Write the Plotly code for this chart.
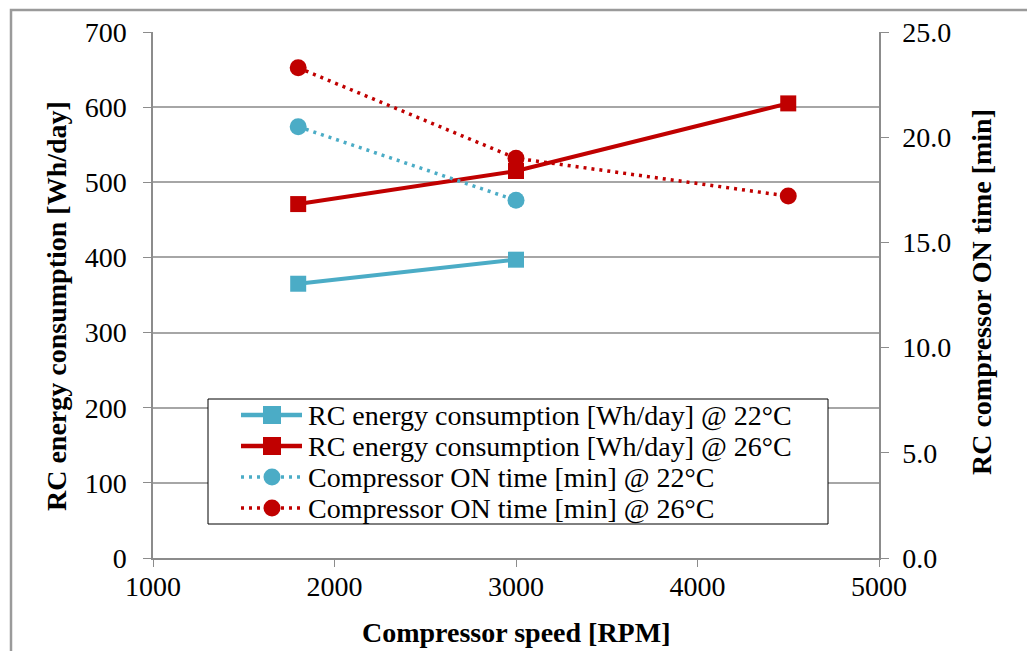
import plotly.graph_objects as go

# Compressor speed [RPM]
speed_energy_22 = [1800, 3000]
speed_energy_26 = [1800, 3000, 4500]
speed_on_22 = [1800, 3000]
speed_on_26 = [1800, 3000, 4500]

# RC energy consumption [Wh/day]
energy_22 = [365, 397]
energy_26 = [471, 515, 605]

# Compressor ON time [min]
on_time_22 = [20.5, 17.0]
on_time_26 = [23.3, 19.0, 17.2]

x_ticks = [1000, 2000, 3000, 4000, 5000]
y_left_ticks = [0, 100, 200, 300, 400, 500, 600, 700]
y_right_ticks = [0, 5, 10, 15, 20, 25]

series_names = [
    "RC energy consumption [Wh/day] @ 22°C",
    "RC energy consumption [Wh/day] @ 26°C",
    "Compressor ON time [min] @ 22°C",
    "Compressor ON time [min] @ 26°C",
]

CYAN = "#4BACC6"
RED = "#C00000"
FONT = "Liberation Serif, Times New Roman, serif"
AXIS_GRAY = "#8C8C8C"
FS = 28

# plot area in page pixels
W, H = 1027, 651
PL, PR, PT, PB = 153, 879, 32, 558


def px_x(p):
    return (p - PL) / (PR - PL)


def px_y(p):
    return (PB - p) / (PB - PT)


DOT = "3px,5px"

fig = go.Figure()

fig.add_trace(go.Scatter(
    x=speed_energy_22, y=energy_22, mode="lines+markers", name=series_names[0],
    line=dict(color=CYAN, width=4),
    marker=dict(symbol="square", size=16, color=CYAN),
))
fig.add_trace(go.Scatter(
    x=speed_energy_26, y=energy_26, mode="lines+markers", name=series_names[1],
    line=dict(color=RED, width=4),
    marker=dict(symbol="square", size=16, color=RED),
))
fig.add_trace(go.Scatter(
    x=speed_on_22, y=on_time_22, mode="lines+markers", yaxis="y2", name=series_names[2],
    line=dict(color=CYAN, width=3.5, dash=DOT),
    marker=dict(symbol="circle", size=17, color=CYAN),
))
fig.add_trace(go.Scatter(
    x=speed_on_26, y=on_time_26, mode="lines+markers", yaxis="y2", name=series_names[3],
    line=dict(color=RED, width=3.5, dash=DOT),
    marker=dict(symbol="circle", size=17, color=RED),
))

fig.update_layout(
    width=W, height=H,
    margin=dict(l=PL, r=W - PR, t=PT, b=H - PB),
    paper_bgcolor="white", plot_bgcolor="white",
    font=dict(family=FONT, size=FS, color="black"),
    showlegend=False,
    xaxis=dict(
        range=[1000, 5000], tickvals=x_ticks,
        ticktext=[str(v) for v in x_ticks],
        showgrid=False, zeroline=False,
        showline=True, linecolor=AXIS_GRAY, linewidth=1.5,
        ticks="outside", ticklen=7, tickcolor=AXIS_GRAY,
        tickfont=dict(size=FS), ticklabelstandoff=-4,
    ),
    yaxis=dict(
        range=[0, 700], tickvals=y_left_ticks,
        showgrid=True, gridcolor="#A6A6A6", gridwidth=1.5,
        zeroline=False,
        showline=True, linecolor=AXIS_GRAY, linewidth=1.5,
        ticks="outside", ticklen=8, tickcolor=AXIS_GRAY,
        tickfont=dict(size=FS), ticklabelstandoff=11,
    ),
    yaxis2=dict(
        range=[0, 25], tickvals=y_right_ticks,
        ticktext=[f"{v:.1f}" for v in y_right_ticks],
        overlaying="y", side="right",
        showgrid=False, zeroline=False,
        showline=True, linecolor=AXIS_GRAY, linewidth=1.5,
        ticks="outside", ticklen=8, tickcolor=AXIS_GRAY,
        tickfont=dict(size=FS), ticklabelstandoff=8,
    ),
)

# Axis titles
fig.add_annotation(text="<b>Compressor speed [RPM]</b>", xref="paper", yref="paper",
                   x=0.5, y=px_y(632), xanchor="center", yanchor="middle",
                   showarrow=False, font=dict(size=FS))
fig.add_annotation(text="<b>RC energy consumption [Wh/day]</b>", xref="paper", yref="paper",
                   x=px_x(56), y=px_y(306), xanchor="center", yanchor="middle",
                   textangle=-90, showarrow=False, font=dict(size=FS))
fig.add_annotation(text="<b>RC compressor ON time [min]</b>", xref="paper", yref="paper",
                   x=px_x(981), y=px_y(292), xanchor="center", yanchor="middle",
                   textangle=-90, showarrow=False, font=dict(size=FS))

# Chart-area frame (top and left edges visible within the page)
fig.add_shape(
    type="rect", xref="paper", yref="paper",
    x0=px_x(11), x1=px_x(1045), y0=px_y(670), y1=px_y(10),
    line=dict(color="#9A9A9A", width=2.5), fillcolor="rgba(0,0,0,0)",
    layer="below",
)

# Legend box
fig.add_shape(
    type="rect", xref="paper", yref="paper",
    x0=px_x(208), x1=px_x(828), y0=px_y(524), y1=px_y(399),
    line=dict(color="black", width=1), fillcolor="white", layer="above",
)

legend_rows = [415, 446, 477, 508]
legend_styles = [
    (CYAN, "solid", "square"),
    (RED, "solid", "square"),
    (CYAN, "dot", "circle"),
    (RED, "dot", "circle"),
]
for row_y, name, (color, style, symbol) in zip(legend_rows, series_names, legend_styles):
    if style == "solid":
        fig.add_shape(type="line", xref="paper", yref="paper",
                      x0=px_x(241), x1=px_x(302), y0=px_y(row_y), y1=px_y(row_y),
                      line=dict(color=color, width=4.5), layer="above")
    else:
        fig.add_shape(type="line", xref="paper", yref="paper",
                      x0=px_x(241), x1=px_x(302), y0=px_y(row_y), y1=px_y(row_y),
                      line=dict(color=color, width=3.5, dash=DOT), layer="above")
    half = 9 if symbol == "square" else 8.5
    fig.add_shape(type="rect" if symbol == "square" else "circle",
                  xref="paper", yref="paper",
                  x0=px_x(272 - half), x1=px_x(272 + half),
                  y0=px_y(row_y + half), y1=px_y(row_y - half),
                  line=dict(color=color, width=0), fillcolor=color, layer="above")
    fig.add_annotation(text=name, xref="paper", yref="paper",
                       x=px_x(306), y=px_y(row_y), xanchor="left", yanchor="middle",
                       showarrow=False, font=dict(size=FS))

fig.write_html("out.html")
